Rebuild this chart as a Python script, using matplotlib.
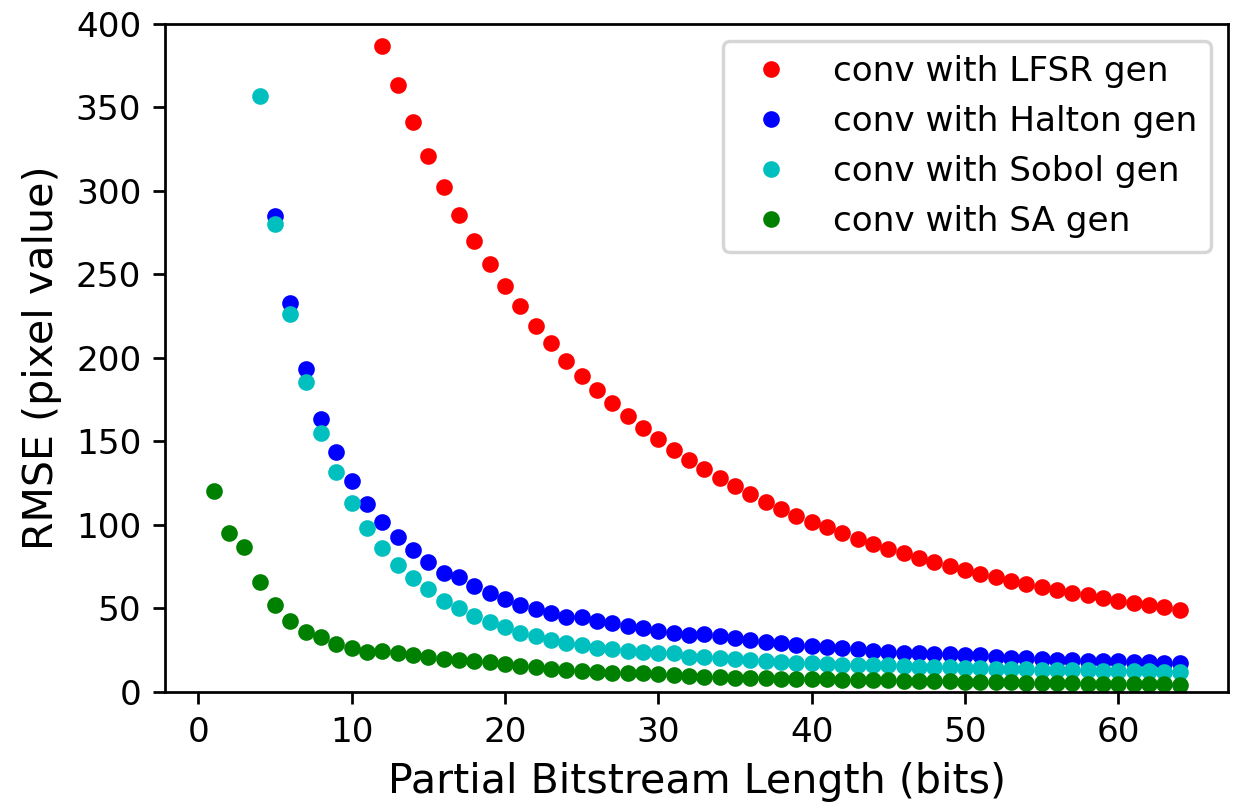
import numpy as np
import matplotlib
matplotlib.use("Agg")
import matplotlib.pyplot as plt

# RMSE vs partial bitstream length
x_lfsr = list(range(12, 65))
rmse_lfsr = [386.6, 363.2, 341.1, 321.0, 302.3, 285.5, 270.2, 256.0, 243.0, 231.0,
             219.2, 208.7, 198.4, 189.4, 180.6, 173.0, 165.4, 158.2, 151.4, 145.0,
             139.0, 133.4, 128.0, 123.0, 118.4, 113.8, 109.4, 105.4, 101.8, 98.4,
             95.0, 91.6, 88.6, 85.6, 82.8, 80.2, 77.6, 75.2, 73.0, 70.8,
             68.6, 66.6, 64.6, 62.8, 61.0, 59.4, 57.8, 56.2, 54.6, 53.0,
             51.8, 50.6, 49.2]

x_halton = list(range(5, 65))
rmse_halton = [285.0, 232.6, 193.4, 163.4, 143.6, 126.0, 112.4, 101.4, 92.6, 84.6,
               77.6, 71.4, 68.6, 63.6, 59.0, 55.4, 52.2, 49.4, 47.0, 45.0,
               44.5, 42.6, 41.0, 39.6, 38.2, 36.6, 35.4, 34.2, 34.6, 33.4,
               32.0, 31.0, 30.0, 29.0, 28.2, 27.4, 27.0, 26.0, 25.4, 24.6,
               24.0, 23.4, 23.0, 22.6, 22.6, 22.2, 21.8, 21.0, 20.4, 20.0,
               19.4, 19.0, 19.0, 18.6, 18.4, 18.2, 18.0, 17.6, 17.4, 17.0]

x_sobol = list(range(4, 65))
rmse_sobol = [356.6, 280.4, 226.0, 185.4, 155.0, 131.6, 113.0, 98.0, 86.0, 76.0,
              68.0, 61.4, 54.6, 50.0, 45.6, 41.6, 38.6, 35.4, 33.4, 31.0,
              29.4, 27.9, 26.4, 25.4, 24.6, 23.8, 23.0, 23.0, 20.6, 21.0,
              20.4, 19.8, 19.0, 18.4, 17.8, 17.4, 17.0, 16.6, 16.2, 16.0,
              15.8, 15.8, 15.4, 15.0, 14.6, 14.6, 14.2, 14.2, 13.8, 13.6,
              13.4, 13.2, 13.0, 13.0, 12.8, 12.6, 12.6, 12.4, 12.2, 12.0,
              11.8]

x_sa = list(range(1, 65))
rmse_sa = [120.4, 95.0, 86.6, 66.0, 51.8, 42.6, 36.0, 32.6, 28.6, 26.2,
           24.0, 24.4, 23.0, 21.8, 20.8, 19.8, 19.2, 18.2, 17.8, 16.6,
           15.4, 14.6, 13.8, 13.2, 12.5, 11.9, 11.4, 11.4, 11.0, 10.6,
           10.0, 9.6, 9.0, 8.6, 8.4, 8.2, 8.0, 7.8, 7.6, 7.6,
           7.4, 7.2, 7.2, 7.0, 6.8, 6.6, 6.5, 6.3, 6.2, 6.0,
           5.9, 5.7, 5.6, 5.4, 5.3, 5.2, 5.0, 4.9, 4.8, 4.7,
           4.6, 4.5, 4.4, 4.3]

DPI = 247
fig = plt.figure(figsize=(1238 / DPI, 803 / DPI), dpi=DPI)
ax = fig.add_axes([0.1335, 0.1386, 0.8585, 0.8315])

ms = 7.7
ax.plot(x_lfsr, rmse_lfsr, '.', color='r', markersize=ms, label='conv with LFSR gen')
ax.plot(x_halton, rmse_halton, '.', color='b', markersize=ms, label='conv with Halton gen')
ax.plot(x_sobol, rmse_sobol, '.', color='c', markersize=ms, label='conv with Sobol gen')
ax.plot(x_sa, rmse_sa, '.', color='g', markersize=ms, label='conv with SA gen')

ax.set_ylim(0, 400)
ax.set_xlabel('Partial Bitstream Length (bits)', fontsize=12)
ax.set_ylabel('RMSE (pixel value)', fontsize=12)
ax.legend(loc='upper right', fontsize=10)

plt.savefig("out.png", dpi=DPI)
